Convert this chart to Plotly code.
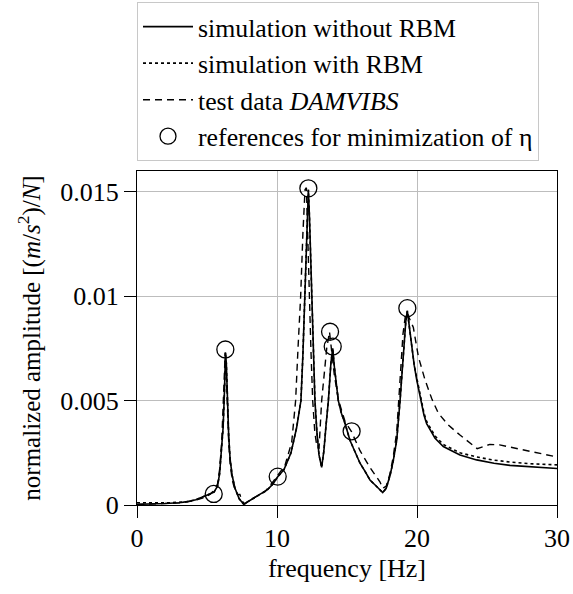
import plotly.graph_objects as go

# --- data ---
freq_sim = [0, 1, 2, 3, 3.6, 4.2, 4.8, 5.2, 5.5, 5.75, 5.9, 6.05, 6.15, 6.25, 6.32, 6.38, 6.45, 6.55,
            6.65, 6.8, 7.0, 7.3, 7.62, 8.0, 8.5, 9.0, 9.3, 9.7, 10.05, 10.5, 11.0, 11.4, 11.71, 11.85,
            12.0, 12.12, 12.24, 12.32, 12.48, 12.6, 12.71, 12.85, 13.0, 13.19, 13.35, 13.5, 13.67,
            13.85, 13.98, 14.1, 14.38, 14.6, 14.86, 15.21, 15.6, 15.93, 16.3, 16.64, 17.1, 17.55,
            17.8, 18.07, 18.3, 18.55, 18.79, 19.02, 19.2, 19.31, 19.45, 19.62, 19.8, 19.98, 20.15,
            20.33, 20.5, 20.69, 21.0, 21.29, 21.88, 22.5, 23.07, 24.26, 25.5, 26.64, 28.0, 30.0]

amp_without_rbm = [0.00003, 0.00004, 0.00007, 0.00011, 0.00016, 0.00025, 0.0004, 0.00053, 0.00062,
                   0.0009, 0.0015, 0.0026, 0.0037, 0.0055, 0.0073, 0.0068, 0.0050, 0.0033, 0.0022,
                   0.0014, 0.0008, 0.0003, 0.00004, 0.0002, 0.00042, 0.0006, 0.00072, 0.001, 0.00135,
                   0.0017, 0.0025, 0.0037, 0.005, 0.0072, 0.01, 0.0128, 0.0151, 0.0138, 0.01, 0.0073,
                   0.005, 0.0035, 0.0024, 0.0018, 0.0026, 0.0038, 0.005, 0.0068, 0.0075, 0.0066, 0.005,
                   0.0044, 0.0039, 0.0031, 0.0025, 0.002, 0.0016, 0.0012, 0.0009, 0.0006, 0.0008, 0.0014,
                   0.0021, 0.0031, 0.005, 0.0074, 0.0088, 0.0093, 0.0086, 0.0075, 0.0067, 0.006, 0.0054,
                   0.0048, 0.0043, 0.0039, 0.0035, 0.0032, 0.0028, 0.00258, 0.0024, 0.00216, 0.002,
                   0.0019, 0.00183, 0.00175]

amp_with_rbm = [0.00011, 0.0001, 0.0001, 0.00013, 0.00017, 0.00025, 0.0004, 0.00053, 0.00062,
                0.0009, 0.0015, 0.0026, 0.0037, 0.0055, 0.0073, 0.0068, 0.0050, 0.0033, 0.0022,
                0.0014, 0.0008, 0.0003, 0.00004, 0.0002, 0.00042, 0.0006, 0.00072, 0.001, 0.00135,
                0.0017, 0.0025, 0.0037, 0.005, 0.0072, 0.01, 0.0128, 0.0151, 0.0138, 0.01, 0.0073,
                0.005, 0.0035, 0.0024, 0.0018, 0.0026, 0.0038, 0.005, 0.0068, 0.0075, 0.0066, 0.005,
                0.0044, 0.0039, 0.0031, 0.0025, 0.002, 0.0016, 0.0012, 0.0009, 0.0006, 0.0008, 0.0014,
                0.0021, 0.0031, 0.005, 0.0074, 0.0088, 0.0093, 0.0086, 0.0075, 0.0067, 0.0061, 0.0055,
                0.0049, 0.0044, 0.004, 0.0036, 0.0033, 0.0029, 0.0027, 0.0025, 0.0023, 0.00215,
                0.00206, 0.00198, 0.00192]

freq_test = [0, 2, 3, 4, 4.8, 5.2, 5.5, 5.75, 5.9, 6.05, 6.15, 6.25, 6.3, 6.38, 6.45, 6.55, 6.65, 6.8,
             7.0, 7.2, 7.35, 7.5, 7.7, 8.0, 8.5, 9.14, 9.7, 10.05, 10.57, 11.05, 11.33, 11.5, 11.69,
             11.85, 12.0, 12.1, 12.2, 12.29, 12.42, 12.55, 12.7, 12.85, 13.0, 13.19, 13.37, 13.55,
             13.75, 13.9, 14.1, 14.4, 14.86, 15.33, 15.93, 16.64, 17.36, 17.55, 17.8, 18.07, 18.3,
             18.55, 18.79, 19.0, 19.2, 19.35, 19.55, 19.74, 20.1, 20.57, 21.05, 21.52, 22.24, 23.07,
             24.3, 25.2, 25.9, 27.6, 30.0]

amp_test = [0.00002, 0.00005, 0.0001, 0.0002, 0.00035, 0.0005, 0.0007, 0.001, 0.0017, 0.003, 0.0045,
            0.0068, 0.0073, 0.0062, 0.0045, 0.003, 0.002, 0.0012, 0.0007, 0.0005, 0.0005, 0.0002,
            0.00005, 0.0002, 0.0004, 0.00064, 0.0011, 0.0014, 0.0019, 0.003, 0.005, 0.0075, 0.01,
            0.013, 0.0151, 0.0152, 0.0125, 0.01, 0.0075, 0.005, 0.0035, 0.0028, 0.0027, 0.005, 0.0063,
            0.0075, 0.0083, 0.0075, 0.0062, 0.005, 0.004, 0.0035, 0.0026, 0.0018, 0.0011, 0.0008,
            0.0009, 0.0015, 0.0023, 0.0035, 0.0058, 0.0082, 0.0092, 0.0091, 0.0088, 0.0085, 0.0071,
            0.006, 0.0051, 0.0044, 0.00383, 0.00335, 0.0027, 0.0029, 0.00288, 0.00265, 0.0023]

ref_freq = [5.48, 6.31, 10.05, 12.24, 13.79, 13.98, 15.33, 19.31]
ref_amp = [0.00053, 0.00745, 0.00136, 0.01517, 0.0083, 0.00759, 0.00353, 0.00943]

y_tickvals = [0, 0.005, 0.01, 0.015]
y_ticktext = ["0", "0.005", "0.01", "0.015"]
x_tickvals = [0, 10, 20, 30]

FONT = "Liberation Serif"

fig = go.Figure()
fig.add_trace(go.Scatter(x=freq_sim, y=amp_without_rbm, mode="lines", name="simulation without RBM",
                         line=dict(color="black", width=1.6)))
fig.add_trace(go.Scatter(x=freq_sim, y=amp_with_rbm, mode="lines", name="simulation with RBM",
                         line=dict(color="black", width=1.6, dash="dot")))
fig.add_trace(go.Scatter(x=freq_test, y=amp_test, mode="lines", name="test data <i>DAMVIBS</i>",
                         line=dict(color="black", width=1.4, dash="7px,5px")))
fig.add_trace(go.Scatter(x=ref_freq, y=ref_amp, mode="markers",
                         name="references for minimization of η",
                         marker=dict(symbol="circle-open", size=17, color="black",
                                     line=dict(color="black", width=1.3))))

fig.update_layout(
    template="none",
    width=573, height=594,
    margin=dict(l=137, r=16, t=171, b=89, autoexpand=False),
    paper_bgcolor="white", plot_bgcolor="white",
    font=dict(family=FONT, size=26, color="black"),
    showlegend=True,
    legend=dict(x=0, xanchor="left", y=1.505, yanchor="top",
                bordercolor="#c8c8c8", borderwidth=1, bgcolor="white",
                font=dict(family=FONT, size=25.8, color="black"),
                tracegroupgap=0, itemwidth=50),
    xaxis=dict(range=[0, 30], tickvals=x_tickvals, showgrid=True, gridcolor="#bdbdbd", gridwidth=1,
               showline=True, linecolor="black", linewidth=1.2, mirror=True,
               ticks="outside", ticklen=12, tickcolor="black", tickwidth=1,
               tickfont=dict(family=FONT, size=26, color="black"), ticklabelstandoff=-2,
               zeroline=False, automargin=False,
               title=dict(text="frequency [Hz]", font=dict(family=FONT, size=26, color="black"), standoff=6)),
    yaxis=dict(range=[0, 0.016], tickvals=y_tickvals, ticktext=y_ticktext,
               showgrid=True, gridcolor="#bdbdbd", gridwidth=1,
               showline=True, linecolor="black", linewidth=1.2, mirror=True,
               ticks="outside", ticklen=12, tickcolor="black", tickwidth=1,
               tickfont=dict(family=FONT, size=26, color="black"),
               zeroline=False, automargin=False,
               title=dict(text="normalized amplitude [(<i>m</i>/<i>s</i><sup>2</sup>)/<i>N</i>]",
                          font=dict(family=FONT, size=25, color="black"), standoff=12)),
)

fig.write_html("out.html")
